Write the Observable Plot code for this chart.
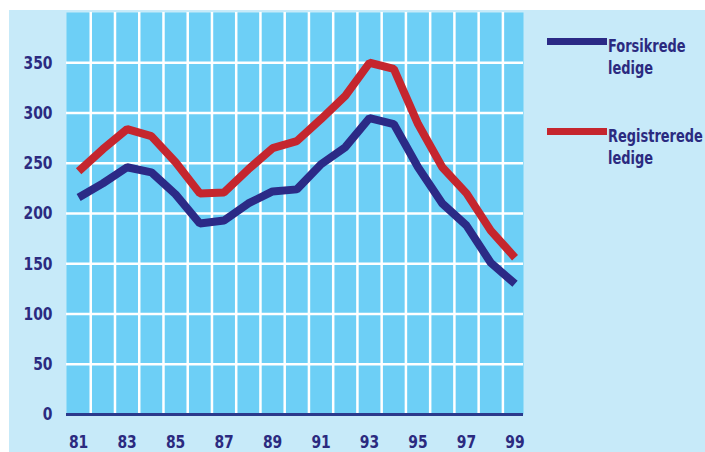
<!DOCTYPE html>
<html>
<head>
<meta charset="utf-8">
<script src="https://cdn.jsdelivr.net/npm/d3@7"></script>
<script src="https://cdn.jsdelivr.net/npm/@observablehq/plot@0.6"></script>
<style>
  html, body { margin: 0; padding: 0; background: #ffffff; }
  #wrap { position: relative; width: 705px; height: 452px; overflow: hidden; }
  #panel { position: absolute; left: 9px; top: 10px; right: 0; bottom: 0; background: #c7eaf9; }
  #chart { position: absolute; left: 0; top: 0; }
  .leg { position: absolute; font-family: "DejaVu Sans Condensed", "DejaVu Sans", sans-serif; font-weight: bold; font-size: 18px; color: #2b2a80; line-height: 22px; transform: scaleX(0.8); transform-origin: left center; white-space: nowrap; }
  .sw { position: absolute; height: 7px; width: 60px; }
</style>
</head>
<body>
<div id="wrap">
  <div id="panel"></div>
  <div id="chart"></div>
</div>
<script>
const years = [81, 82, 83, 84, 85, 86, 87, 88, 89, 90, 91, 92, 93, 94, 95, 96, 97, 98, 99];
const forsikrede = [216, 230, 246, 241, 219, 190, 193, 210, 222, 224, 249, 266, 295, 289, 246, 210, 188, 151, 130];
const registrerede = [242, 264, 284, 277, 251, 220, 221, 244, 265, 272, 294, 317, 350, 344, 289, 246, 220, 183, 156];
const seriesNames = ["Forsikrede ledige", "Registrerede ledige"];
const seriesColors = ["#2b2a86", "#c5262e"];
const xTicks = [81, 83, 85, 87, 89, 91, 93, 95, 97, 99];
const yTicks = [0, 50, 100, 150, 200, 250, 300, 350];
const xGrid = [81.5, 82.5, 83.5, 84.5, 85.5, 86.5, 87.5, 88.5, 89.5, 90.5, 91.5, 92.5, 93.5, 94.5, 95.5, 96.5, 97.5, 98.5];
const yGrid = [50, 100, 150, 200, 250, 300, 350];

const rows = [];
years.forEach((y, i) => {
  rows.push({year: y, value: forsikrede[i], series: seriesNames[0]});
  rows.push({year: y, value: registrerede[i], series: seriesNames[1]});
});

const font = '"DejaVu Sans Condensed", "DejaVu Sans", sans-serif';
const plot = Plot.plot({
  width: 705,
  height: 452,
  marginLeft: 66,
  marginRight: 182,
  marginTop: 12,
  marginBottom: 38,
  style: {background: "transparent", fontFamily: font},
  x: {domain: [80.5, 99.35], axis: null},
  y: {domain: [0, 400], axis: null},
  color: {domain: seriesNames, range: seriesColors},
  marks: [
    Plot.frame({fill: "#6dcff6", stroke: null}),
    Plot.ruleX(xGrid, {stroke: "white", strokeWidth: 2.5}),
    Plot.ruleY(yGrid, {stroke: "white", strokeWidth: 2.5}),
    Plot.ruleY([0], {stroke: "#2b3a8c", strokeWidth: 3}),
    Plot.line(rows, {x: "year", y: "value", z: "series", stroke: "series", strokeWidth: 8, strokeLinejoin: "miter", strokeLinecap: "butt"}),
    Plot.axisX(xTicks, {tickSize: 0, tickPadding: 21, fontSize: 18, fontWeight: "bold", fill: "#2b2a80", label: null, tickFormat: d => String(d)}),
    Plot.axisY(yTicks, {tickSize: 0, tickPadding: 14, fontSize: 18, fontWeight: "bold", fill: "#2b2a80", label: null})
  ]
});
// condense tick labels horizontally around their anchor
plot.querySelectorAll('g[aria-label$="tick label"] text').forEach(t => {
  const tr = t.getAttribute("transform") || "";
  t.setAttribute("transform", tr + " scale(0.86,1)");
});
document.getElementById("chart").appendChild(plot);

// legend
const wrap = document.getElementById("wrap");
const legTops = [41, 131];
seriesNames.forEach((name, i) => {
  const sw = document.createElement("div");
  sw.className = "sw";
  sw.style.left = "547px";
  sw.style.top = (legTops[i] - 3.5) + "px";
  sw.style.background = seriesColors[i];
  wrap.appendChild(sw);
  const t = document.createElement("div");
  t.className = "leg";
  t.style.left = "608px";
  t.style.top = (legTops[i] - 6) + "px";
  const parts = name.split(" ");
  t.innerHTML = parts[0] + "<br>" + parts[1];
  wrap.appendChild(t);
});
</script>
</body>
</html>
